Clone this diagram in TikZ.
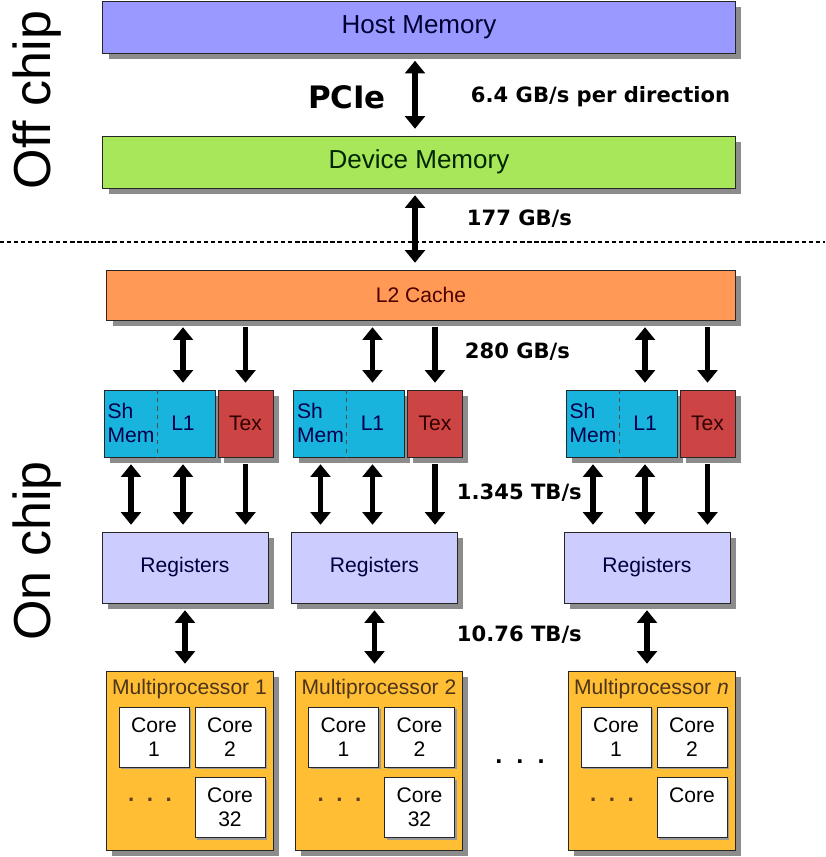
\documentclass[tikz,border=0pt]{standalone}
\usepackage{fontspec}
\setmainfont{Liberation Sans}
\newfontfamily\ratefont{DejaVu Sans}
\usetikzlibrary{shapes, arrows.meta, shadows, calc}
\definecolor{hostblue}{RGB}{153,153,255}
\definecolor{devgreen}{RGB}{168,230,90}
\definecolor{cacheorange}{RGB}{255,153,85}
\definecolor{smcyan}{RGB}{24,180,222}
\definecolor{texred}{RGB}{204,68,68}
\definecolor{reglav}{RGB}{204,204,255}
\definecolor{mpgold}{RGB}{255,190,52}
\tikzstyle{block} = [rectangle, draw=black!85, line width=0.6pt, text centered, drop shadow={shadow xshift=0.14cm, shadow yshift=-0.14cm, fill=black!45, opacity=1}]
\tikzstyle{mem} = [block, minimum width=15.8cm, minimum height=1.3cm, font=\fontsize{18.5}{20}\selectfont]
\tikzstyle{unit} = [block, font=\fontsize{15}{17}\selectfont]
\tikzstyle{core} = [rectangle, draw=black!85, line width=0.6pt, fill=white, minimum width=1.75cm, minimum height=1.5cm, align=center, font=\fontsize{15}{17}\selectfont, drop shadow={shadow xshift=0.06cm, shadow yshift=-0.06cm, fill=black!40, opacity=1}]
\tikzstyle{rate} = [anchor=west, font=\ratefont\bfseries\fontsize{15}{17}\selectfont]
\tikzstyle{side} = [rotate=90, font=\fontsize{37}{40}\selectfont]
\tikzstyle{arrow} = [line width=4.2pt, -{Triangle[width=14pt,length=9pt]}, shorten <=0.17cm, shorten >=0.17cm]
\tikzstyle{dbl} = [line width=4.2pt, {Triangle[width=14pt,length=9pt]}-{Triangle[width=14pt,length=9pt]}, shorten <=0.17cm, shorten >=0.17cm]

\begin{document}
\begin{tikzpicture}[x=0.025cm, y=-0.025cm]
	\useasboundingbox (0,0) rectangle (825,857);
	\node(host)[mem, fill=hostblue, text=blue!20!black] at (419,27.5) {Host Memory};
	\node(device)[mem, fill=devgreen, text=green!15!black] at (419,162) {Device Memory};
	\node(l2)[unit, fill=cacheorange, text=red!30!black, minimum width=15.7cm, minimum height=1.25cm] at (421,295) {L2 Cache};
	\coordinate(bus) at (415,0);
	\draw [dbl] (host.south -| bus) -- (device.north -| bus);
	\draw [dbl] (device.south -| bus) -- (l2.north -| bus);
	\draw [black, line width=1.1pt, dash pattern=on 3pt off 2pt] (0,242) -- (825,242);
	\foreach \g/\dx/\mpn/\last in {1/0/1/{Core\\32}, 2/189.5/2/{Core\\32}, 3/462/\textit{n}/{Core\\\phantom{32}}} {
		\node(sm\g)[unit, fill=smcyan, minimum width=2.775cm, minimum height=1.675cm] at (159.5+\dx,423.5) {};
		\node(shm\g)[align=left, font=\fontsize{15}{17}\selectfont, text=blue!30!black, inner sep=0pt] at (131+\dx,423) {Sh\\Mem};
		\node(lone\g)[font=\fontsize{15}{17}\selectfont, text=blue!30!black] at (183+\dx,423.5) {L1};
		\draw [black!70, line width=0.6pt, dashed] (sm\g.north -| 157+\dx,0) -- (sm\g.south -| 157+\dx,0);
		\node(tex\g)[unit, fill=texred, text=red!20!black, minimum width=1.375cm, minimum height=1.675cm] at (245.5+\dx,423.5) {Tex};
		\node(reg\g)[unit, fill=reglav, text=blue!25!black, minimum width=4.15cm, minimum height=1.775cm] at (185+\dx,567.5) {Registers};
		\node(mp\g)[unit, fill=mpgold, minimum width=4.175cm, minimum height=4.475cm] at (189.5+\dx,760.5) {};
		\node(mpt\g)[font=\fontsize{15}{17}\selectfont, text=brown!40!black] at (189.5+\dx,689) {Multiprocessor \mpn};
		\node(ca\g)[core] at (154+\dx,737) {Core\\1};
		\node(cb\g)[core] at (230+\dx,737) {Core\\2};
		\node(cc\g)[core] at (230+\dx,807.5) {\last};
		\node(dots\g)[font=\fontsize{16}{18}\selectfont\bfseries, text=brown!50!black] at (150+\dx,800) {.\ \ .\ \ .};
		\draw [dbl] (l2.south -| lone\g) -- (lone\g |- sm\g.north);
		\draw [arrow] (l2.south -| tex\g) -- (tex\g.north);
		\draw [dbl] (shm\g |- sm\g.south) -- (shm\g |- reg\g.north);
		\draw [dbl] (lone\g |- sm\g.south) -- (lone\g |- reg\g.north);
		\draw [arrow] (tex\g.south) -- (tex\g.south |- reg\g.north);
		\draw [dbl] (reg\g.south) -- (reg\g.south |- mp\g.north);
	}
	\node(gap)[font=\fontsize{18}{20}\selectfont\bfseries] at (520,762) {.\ \ .\ \ .};
	% Labels
	\node(pcie)[font=\ratefont\bfseries\fontsize{22}{24}\selectfont] at (347,97) {PCIe};
	\node(rpcie)[rate] at (466,97) {6.4 GB/s per direction};
	\node(rdev)[rate] at (462,219) {177 GB/s};
	\node(rl2)[rate] at (460,352) {280 GB/s};
	\node(rl1)[rate] at (452,493) {1.345 TB/s};
	\node(rreg)[rate] at (452,635) {10.76 TB/s};
	\node(off)[side] at (37,100) {Off chip};
	\node(on)[side] at (37,551) {On chip};
\end{tikzpicture}
\end{document}
